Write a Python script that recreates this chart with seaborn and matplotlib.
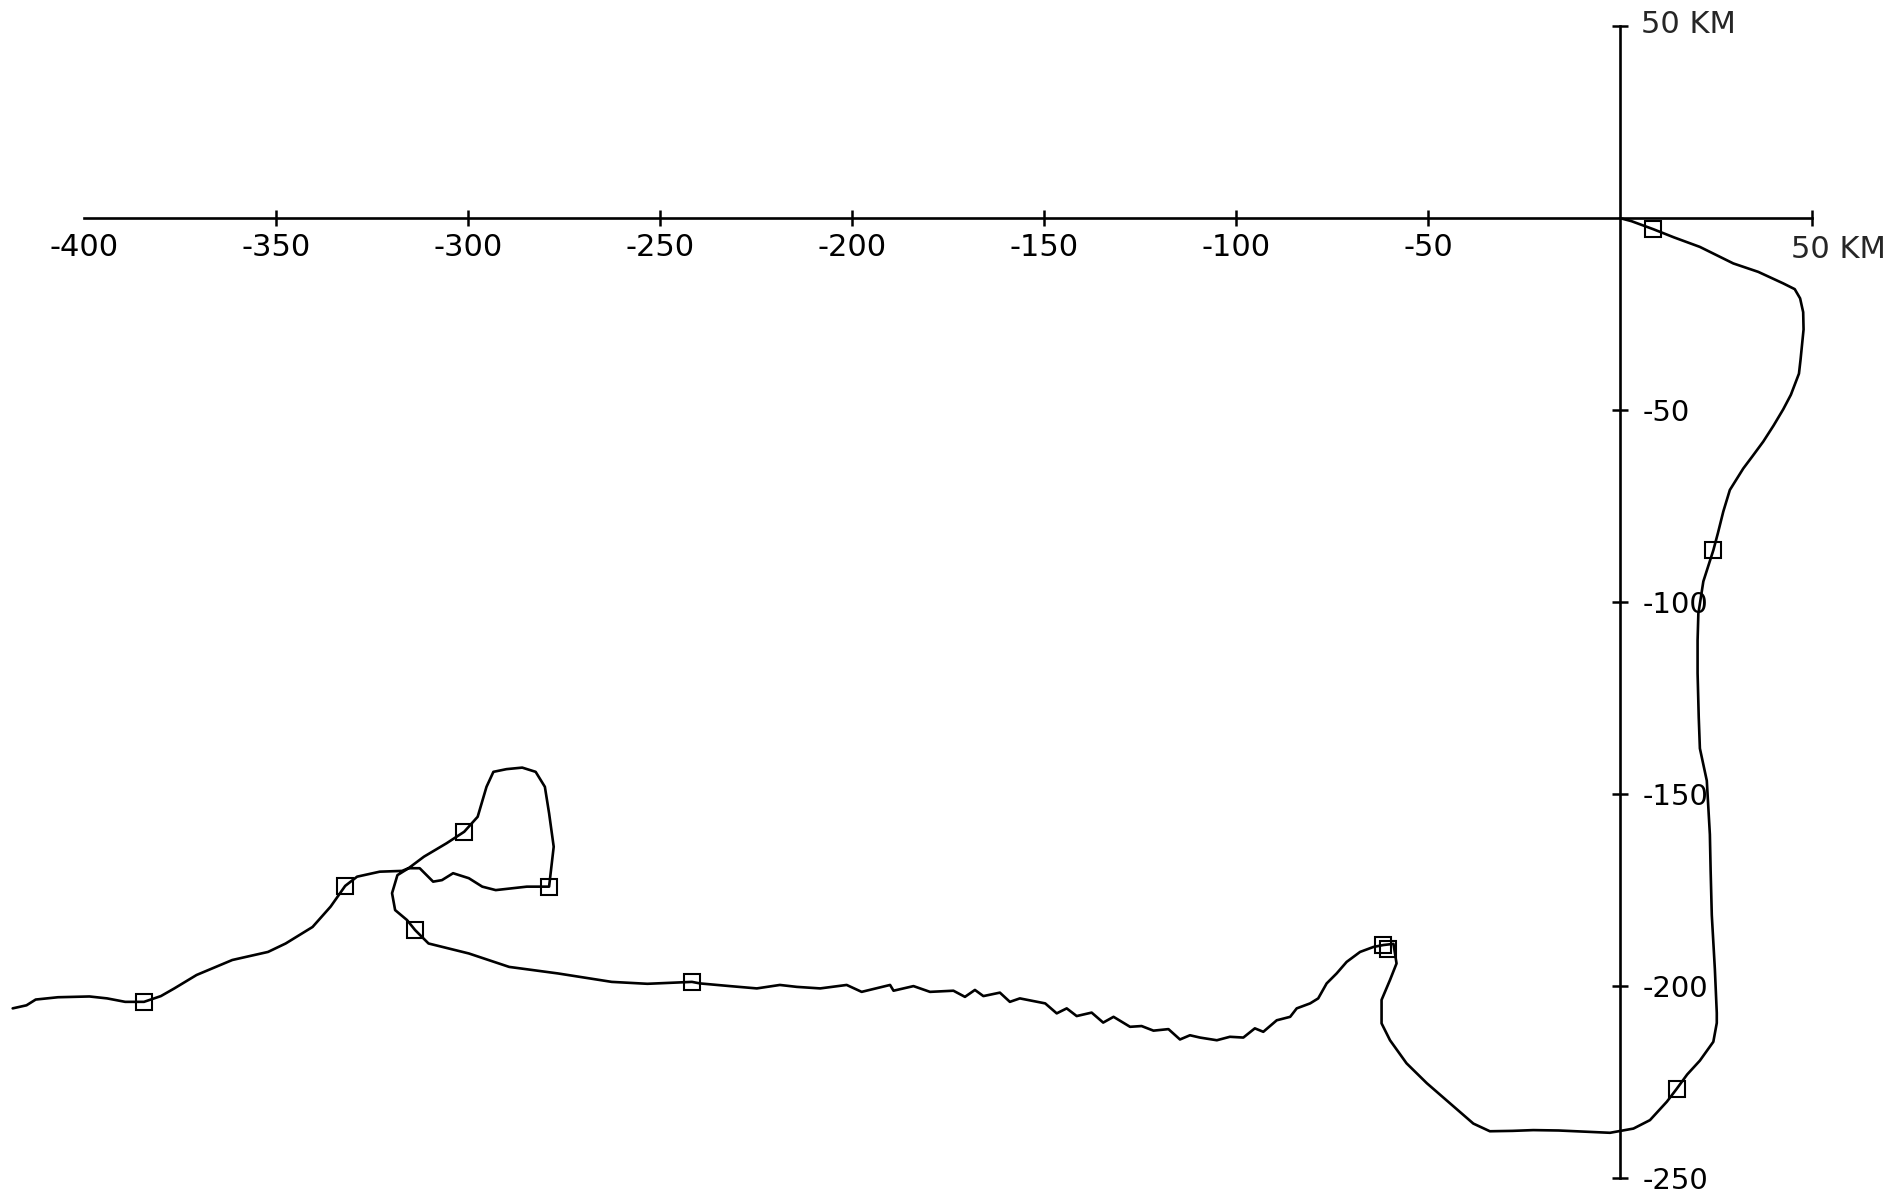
import matplotlib
matplotlib.use("Agg")
import matplotlib.pyplot as plt
import seaborn as sns
import pandas as pd

# ---- data (km) ----
track_x = [0, 3, 8.7, 14, 20.8, 29.5, 36, 42.5, 45.5, 46.9, 47.7, 47.8, 47.4, 47.0, 46.6,
           44.5, 42.5, 40, 37.3, 34.5, 32.1, 28.6, 26.9, 25.5, 24.3, 21.7, 20.4, 20.2, 20.2,
           20.5, 20.8, 22.6, 23.4, 23.6, 23.9, 24.7, 25.2, 25.2, 24.3, 20.8, 17.5, 14.8, 12.2,
           7.8, 3.5, -2.6, -9.6, -16, -22.6, -28, -33.9, -38.2, -44.3, -50.3, -55.6, -59.9,
           -62.1, -62.1, -59.9, -58.2, -59, -61.6, -64.2, -67.7, -71.2, -73.8, -76.4, -78.6,
           -80.7, -84.2, -85.9, -89.4, -92.9, -95.1, -98.1, -101.6, -105, -109.4, -112,
           -114.6, -117.6, -121.5, -124.6, -127.6, -131.9, -134.6, -137.6, -141.5, -144.1,
           -146.7, -149.7, -156.3, -158.9, -161.5, -165.8, -168, -170.6, -173.6, -179.7,
           -184, -189.2, -190.1, -197.5, -201.4, -208.3, -214.4, -218.8, -224.8, -231.8,
           -239.6, -241.7, -253.3, -262.6, -276.6, -289.3,
           -299.8, -310.3, -313.8, -315.9, -319, -319.8, -318.4, -315.5, -312.6, -309.1,
           -306.8, -303.9, -299.8, -296.3, -292.8, -284.7, -278.9, -277.7, -278.9, -280,
           -282.4, -285.9, -290, -293.4, -295.2, -297.5, -301, -305.6, -311.5, -315.5,
           -317.2, -323, -328.9, -332, -335.8, -340.5, -347.5, -352.1, -361.4, -370.7,
           -376.5, -380, -384.4, -389.3, -394, -398.6, -406.8, -412.6, -415, -418.6]
track_y = [0, -0.8, -2.9, -5, -7.5, -11.8, -14, -17, -18.5, -20.9, -24.5, -29, -33, -37, -40.5,
           -46, -49.8, -54, -58.2, -62, -65.2, -70.8, -76.4, -82, -86.5, -94.6, -103, -110,
           -118.5, -130, -138.1, -146.5, -160.5, -170, -181.5, -195.6, -207, -209.6, -214.5,
           -219.4, -223, -226.7, -230.1, -234.9, -237.1, -238.2, -237.9, -237.6, -237.5,
           -237.7, -237.8, -235.8, -230.5, -225.3, -220.1, -214.1, -209.7, -203.6, -198.4,
           -194.1, -189, -189.3, -189.8, -191.1, -193.7, -196.7, -199.3, -203.2,
           -204.5, -205.8, -208, -208.9, -211.9, -211, -213.4, -213.2, -214.1, -213.4, -212.8,
           -213.9, -211.2, -211.6, -210.4, -210.6, -208, -209.5, -206.9, -207.8, -205.8,
           -207.1, -204.5, -203.2, -204.1, -201.7, -202.6, -201, -202.8, -201.2, -201.5,
           -200, -201.2, -199.7, -201.5, -199.7, -200.6, -200.2, -199.7, -200.6, -200,
           -199.3, -198.9, -199.4, -198.9, -196.7, -195,
           -191.5, -188.9, -185.4, -182.8, -180.2, -175.8, -171.1, -169.3, -169.3, -172.8,
           -172.4, -170.6, -171.9, -174.1, -175, -174.1, -174.1, -163.7, -155.0, -148.1,
           -144.2, -143.1, -143.5, -144.2, -148.1, -155.9, -159.8, -162.8, -166.3, -169.3,
           -170, -170.2, -171.5, -173.9, -179.3, -184.6, -188.9, -191.1, -193.2, -197.1,
           -200.6, -202.6, -204.1, -204.1, -203.2, -202.7, -202.9, -203.5, -205, -205.8]

marker_x = [8.7, 24.3, 14.8, -61.6, -60.3, -241.7, -313.8, -278.9, -301.0, -332.0, -384.4]
marker_y = [-2.9, -86.5, -226.7, -189.3, -190.3, -198.9, -185.4, -174.1, -159.8, -173.9, -204.1]

x_ticks = [-400, -350, -300, -250, -200, -150, -100, -50, 0, 50]
x_tick_labels = ["-400", "-350", "-300", "-250", "-200", "-150", "-100", "-50", "", ""]
y_ticks = [-250, -200, -150, -100, -50, 0, 50]
y_tick_labels = ["-250", "-200", "-150", "-100", "-50", "", ""]
unit_label = "50 KM"

# ---- figure ----
sns.set_style("white")
plt.rcParams["font.family"] = ["DejaVu Sans"]
fig = plt.figure(figsize=(18.89, 11.95), dpi=100)
ax = fig.add_axes([0, 0, 1, 1])

track = pd.DataFrame({"x": track_x, "y": track_y})
sns.lineplot(data=track, x="x", y="y", sort=False, estimator=None, color="black",
             linewidth=1.9, ax=ax)
marks = pd.DataFrame({"x": marker_x, "y": marker_y})
ax.plot(marks["x"], marks["y"], linestyle="none", marker="s", markersize=11.5,
        markerfacecolor="none", markeredgecolor="black", markeredgewidth=1.5)

ax.set_xlim(-421.9, 70.05)
ax.set_ylim(-254.4, 56.8)
ax.set_xlabel("")
ax.set_ylabel("")

# axes crossing at origin
for s in ["top", "left"]:
    ax.spines[s].set_visible(False)
ax.spines["bottom"].set_position(("data", 0))
ax.spines["bottom"].set_bounds(min(x_ticks), max(x_ticks))
ax.spines["right"].set_position(("data", 0))
ax.spines["right"].set_bounds(min(y_ticks), max(y_ticks))
for s in ["bottom", "right"]:
    ax.spines[s].set_visible(True)
    ax.spines[s].set_color("black")
    ax.spines[s].set_linewidth(1.9)

ax.xaxis.set_ticks_position("bottom")
ax.yaxis.set_ticks_position("right")
ax.set_xticks(x_ticks)
ax.set_xticklabels(x_tick_labels)
ax.set_yticks(y_ticks)
ax.set_yticklabels(y_tick_labels)
ax.tick_params(axis="x", direction="inout", length=12, width=1.8, pad=5,
               labelsize=22, colors="black")
ax.tick_params(axis="y", direction="inout", length=12, width=1.8, pad=10,
               labelsize=21, colors="black")
# no tick marks at the axis start and the origin
xt = ax.xaxis.get_major_ticks()
xt[0].tick1line.set_visible(False)
xt[x_ticks.index(0)].tick1line.set_visible(False)
yt = ax.yaxis.get_major_ticks()
yt[y_ticks.index(0)].tick2line.set_visible(False)

ax.annotate(unit_label, xy=(max(x_ticks), 0), xytext=(-21, -31), textcoords="offset pixels",
            ha="left", va="center", fontsize=22)
ax.annotate(unit_label, xy=(0, max(y_ticks)), xytext=(21, 2), textcoords="offset pixels",
            ha="left", va="center", fontsize=22)

fig.savefig("out.png", dpi=100, facecolor="white")
